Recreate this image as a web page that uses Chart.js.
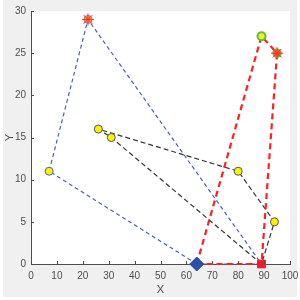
<!DOCTYPE html>
<html>
<head>
<meta charset="utf-8">
<script src="https://cdn.jsdelivr.net/npm/chart.js@4.4.1/dist/chart.umd.min.js"></script>
<style>
  html, body { margin: 0; padding: 0; background: #fff; }
  #wrap { width: 300px; height: 300px; }
</style>
</head>
<body>
<div id="wrap"><canvas id="routes"></canvas></div>
<script>
// route vertices
var blueX  = [64, 7, 22, 89, 64];
var blueY  = [0, 11, 29, 0, 0];
var redX   = [64, 89, 95, 89, 64];
var redY   = [0, 27, 25, 0, 0];
var blackX = [89, 31, 26, 80, 94, 89];
var blackY = [0, 15, 16, 11, 5, 0];

// customers
var custX = [26, 31, 80, 94];
var custY = [16, 15, 11, 5];
var blueCustX = [7],  blueCustY = [11];
var greenCustX = [89], greenCustY = [27];
var starX = [22, 95], starY = [29, 25];
var diamondX = [64], diamondY = [0];
var squareX = [89],  squareY = [0];

var xTicks = [0, 10, 20, 30, 40, 50, 60, 70, 80, 90, 100];
var yTicks = [0, 5, 10, 15, 20, 25, 30];

function pts(xs, ys) {
  return xs.map(function(x, i) { return { x: x, y: ys[i] }; });
}

function route(xs, ys, color, width, dash) {
  return {
    data: pts(xs, ys), showLine: true, borderColor: color, borderWidth: width,
    borderDash: dash, pointRadius: 0, clip: false
  };
}

function marker(xs, ys, style, r, fill, edge, ew) {
  return {
    data: pts(xs, ys), showLine: false, pointStyle: style, pointRadius: r,
    backgroundColor: fill, borderColor: edge, borderWidth: ew, clip: false
  };
}

var bgPlugin = {
  id: 'bg',
  beforeDraw: function(chart) {
    var c = chart.ctx, a = chart.chartArea;
    c.save();
    c.fillStyle = '#f0f0f0';
    c.fillRect(3, 0, 294, 297);
    c.fillStyle = '#ffffff';
    c.fillRect(a.left, a.top, a.right - a.left, a.bottom - a.top);
    c.restore();
  },
  afterDatasetsDraw: function(chart) {
    var c = chart.ctx, a = chart.chartArea;
    var xs = chart.scales.x, ys = chart.scales.y;
    c.save();
    c.strokeStyle = '#4d4d4d';
    c.lineWidth = 1;
    c.beginPath();
    xTicks.forEach(function(v) {
      var p = Math.round(xs.getPixelForValue(v)) + 0.5;
      c.moveTo(p, a.bottom); c.lineTo(p, a.bottom - 3);
    });
    yTicks.forEach(function(v) {
      var p = Math.round(ys.getPixelForValue(v)) + 0.5;
      c.moveTo(a.left, p); c.lineTo(a.left + 3, p);
    });
    c.stroke();
    c.restore();
  }
};

new Chart(document.getElementById('routes'), {
  type: 'scatter',
  data: {
    datasets: [
      marker(diamondX, diamondY, 'rectRot', 7, '#2f4ea8', '#2f4ea8', 1),
      marker(squareX, squareY, 'rect', 5.5, '#ee1c25', '#ee1c25', 1),
      marker(starX, starY, 'star', 6, 'rgba(0,0,0,0)', '#ff2a2a', 1),
      marker([starX[0]], [starY[0]], 'circle', 4, '#f7a21b', '#8a7fc0', 1),
      marker([starX[1]], [starY[1]], 'circle', 4, '#ff5a1f', '#5fbf3a', 1.5),
      marker(greenCustX, greenCustY, 'circle', 4, '#f5f01a', '#5fbf3a', 2),
      marker(blueCustX, blueCustY, 'circle', 4, '#fff200', '#4a62b4', 1),
      marker(custX, custY, 'circle', 4, '#fff200', '#555555', 1),
      route(redX, redY, '#ff2020', 2.2, [6, 4]),
      route(blackX, blackY, '#333333', 1.2, [5, 3]),
      route(blueX, blueY, '#4a62b4', 1.2, [4, 3])
    ]
  },
  options: {
    responsive: true,
    maintainAspectRatio: false,
    animation: false,
    layout: { padding: { left: 3, right: 10, top: 11, bottom: 3 } },
    plugins: { legend: { display: false }, tooltip: { enabled: false } },
    scales: {
      x: {
        type: 'linear', min: 0, max: 100,
        afterBuildTicks: function(s) { s.ticks = xTicks.map(function(v) { return { value: v }; }); },
        afterFit: function(s) { s.height = 33; s.paddingRight = 0; s.paddingLeft = 0; },
        grid: { display: true, drawOnChartArea: false, drawTicks: false, tickLength: 0 },
        border: { display: true, color: '#4d4d4d', width: 1 },
        ticks: { color: '#4d4d4d', font: { family: 'Liberation Sans', size: 10 }, padding: 6, maxRotation: 0 },
        title: { display: true, text: 'X', color: '#4d4d4d', font: { family: 'Liberation Sans', size: 11 }, padding: 0 }
      },
      y: {
        type: 'linear', min: 0, max: 30,
        afterBuildTicks: function(s) { s.ticks = yTicks.map(function(v) { return { value: v }; }); },
        afterFit: function(s) { s.width = 28; s.paddingTop = 0; s.paddingBottom = 0; },
        grid: { display: true, drawOnChartArea: false, drawTicks: false, tickLength: 0 },
        border: { display: true, color: '#4d4d4d', width: 1 },
        ticks: { color: '#4d4d4d', font: { family: 'Liberation Sans', size: 10 }, padding: 5 },
        title: { display: true, text: 'Y', color: '#4d4d4d', font: { family: 'Liberation Sans', size: 11 }, padding: 0 }
      }
    }
  },
  plugins: [bgPlugin]
});
</script>
</body>
</html>
